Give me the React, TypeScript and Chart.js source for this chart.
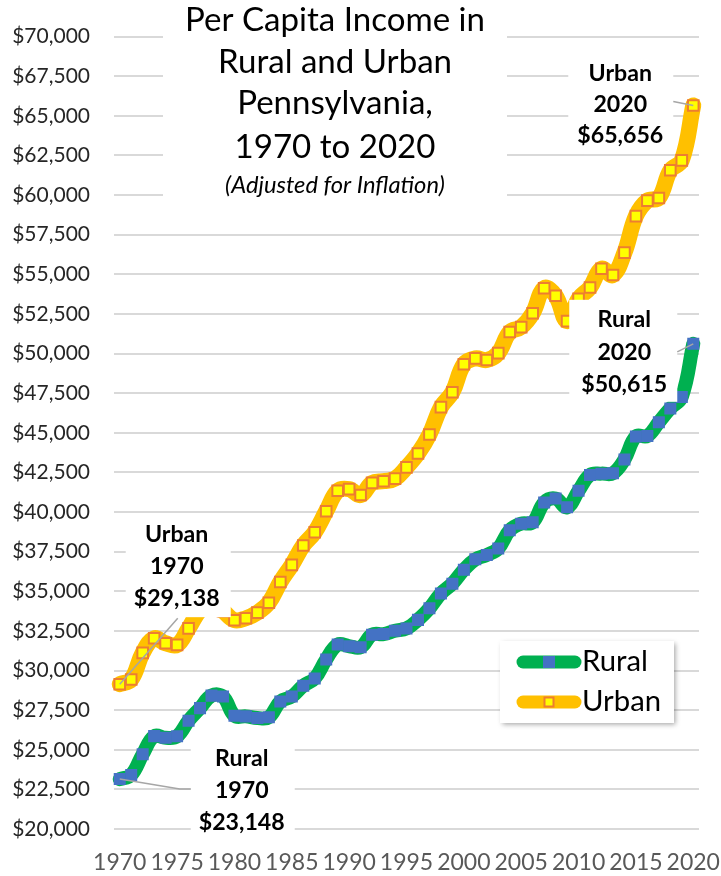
import React, { useEffect, useRef } from "react";
import { Chart, registerables } from "chart.js";

Chart.register(...registerables);

const years = [
  "1970", "1971", "1972", "1973", "1974", "1975", "1976", "1977", "1978", "1979",
  "1980", "1981", "1982", "1983", "1984", "1985", "1986", "1987", "1988", "1989",
  "1990", "1991", "1992", "1993", "1994", "1995", "1996", "1997", "1998", "1999",
  "2000", "2001", "2002", "2003", "2004", "2005", "2006", "2007", "2008", "2009",
  "2010", "2011", "2012", "2013", "2014", "2015", "2016", "2017", "2018", "2019",
  "2020",
];

const xTickLabels = ["1970", "1975", "1980", "1985", "1990", "1995", "2000", "2005", "2010", "2015", "2020"];

const ruralIncome = [
  23148, 23408, 24717, 25860, 25756, 25850, 26837, 27627, 28416, 28354,
  27149, 27107, 27004, 27050, 28042, 28354, 29040, 29497, 30702, 31637,
  31534, 31471, 32261, 32300, 32510, 32656, 33196, 33923, 34858, 35482,
  36355, 37020, 37290, 37706, 38849, 39264, 39350, 40600, 40850, 40300,
  41341, 42340, 42423, 42450, 43317, 44771, 44800, 45665, 46538, 47265,
  50615,
];

const urbanIncome = [
  29138, 29433, 31116, 32032, 31721, 31615, 32656, 33800, 34200, 33750,
  33174, 33300, 33653, 34277, 35586, 36666, 37893, 38724, 40054, 41342,
  41446, 41072, 41841, 41945, 42111, 42818, 43691, 44896, 46621, 47556,
  49322, 49696, 49592, 50029, 51359, 51671, 52544, 54123, 53645, 52045,
  53458, 54165, 55349, 54954, 56368, 58674, 59651, 59817, 61563, 62187,
  65656,
];

const yMin = 20000;
const yMax = 70000;
const yStep = 2500;

const seriesNames = ["Rural", "Urban"];
const titleLines = ["Per Capita Income in", "Rural and Urban", "Pennsylvania,", "1970 to 2020"];
const subtitleText = "(Adjusted for Inflation)";

const FONT = "Lato, 'Open Sans', sans-serif";
const RURAL_LINE = "#00B050";
const RURAL_MARK = "#4472C4";
const URBAN_LINE = "#FFC000";
const URBAN_MARK = "#FFFF00";
const URBAN_MARK_BORDER = "#ED7D31";

const money = (v: number) => "$" + Number(v).toLocaleString("en-US");

function fitSize(ctx: CanvasRenderingContext2D, text: string, width: number, style: string) {
  const base = 40;
  ctx.font = `${style} ${base}px ${FONT}`;
  const w = ctx.measureText(text).width;
  return (base * width) / w;
}

const overlayPlugin = {
  id: "overlay",
  beforeDatasetsDraw(chart: any) {
    const ctx: CanvasRenderingContext2D = chart.ctx;
    ctx.save();
    ctx.fillStyle = "#ffffff";
    ctx.fillRect(163, 0, 344, 200);
    ctx.fillStyle = "#000000";
    ctx.textAlign = "center";
    ctx.textBaseline = "alphabetic";
    const tSize = fitSize(ctx, titleLines[0], 300, "400");
    ctx.font = `400 ${tSize}px ${FONT}`;
    const baselines = [31, 73, 114, 158];
    titleLines.forEach((t, i) => ctx.fillText(t, 335, baselines[i]));
    const sSize = fitSize(ctx, subtitleText, 220, "italic 400");
    ctx.font = `italic 400 ${sSize}px ${FONT}`;
    ctx.fillText(subtitleText, 335, 193);
    ctx.restore();
  },
  afterDatasetsDraw(chart: any) {
    const ctx: CanvasRenderingContext2D = chart.ctx;
    const xs = chart.scales.x;
    const ys = chart.scales.y;
    const last = years.length - 1;
    const pt = (i: number, arr: number[]) => ({ x: xs.getPixelForValue(i), y: ys.getPixelForValue(arr[i]) });

    ctx.save();
    const labelSize = fitSize(ctx, money(urbanIncome[0]), 86, "700");
    const specs = [
      { p: pt(0, urbanIncome), name: seriesNames[1], year: years[0], val: urbanIncome[0],
        box: [6, -169, 105, 102], cx: 57, base: [-142, -110, -78], leader: [[58, -66], [0, 0]] },
      { p: pt(0, ruralIncome), name: seriesNames[0], year: years[0], val: ruralIncome[0],
        box: [71, -39, 104, 98], cx: 122, base: [-13, 19, 51], leader: [[71, 10], [60, 10], [0, 0]] },
      { p: pt(last, urbanIncome), name: seriesNames[1], year: years[last], val: urbanIncome[last],
        box: [-125, -53, 105, 98], cx: -73, base: [-24, 7, 38], leader: [[-20, -4], [0, 0]] },
      { p: pt(last, ruralIncome), name: seriesNames[0], year: years[last], val: ruralIncome[last],
        box: [-124, -44, 108, 102], cx: -69, base: [-17, 16, 48], leader: [[-16, 8], [0, 0]] },
    ];
    for (const s of specs) {
      const { p } = s;
      ctx.fillStyle = "#ffffff";
      ctx.fillRect(p.x + s.box[0], p.y + s.box[1], s.box[2], s.box[3]);
      ctx.strokeStyle = "#A6A6A6";
      ctx.lineWidth = 1.5;
      ctx.beginPath();
      s.leader.forEach((l, i) => {
        if (i === 0) ctx.moveTo(p.x + l[0], p.y + l[1]);
        else ctx.lineTo(p.x + l[0], p.y + l[1]);
      });
      ctx.stroke();
      ctx.fillStyle = "#000000";
      ctx.textAlign = "center";
      ctx.textBaseline = "alphabetic";
      ctx.font = `700 ${labelSize}px ${FONT}`;
      const lines = [s.name, s.year, money(s.val)];
      lines.forEach((t, i) => ctx.fillText(t, p.x + s.cx, p.y + s.base[i]));
    }

    // Legend
    const lx = 500, ly = 641, lw = 174, lh = 82;
    ctx.save();
    ctx.shadowColor = "rgba(0,0,0,0.35)";
    ctx.shadowBlur = 5;
    ctx.shadowOffsetX = 1.5;
    ctx.shadowOffsetY = 1.5;
    ctx.fillStyle = "#ffffff";
    ctx.fillRect(lx, ly, lw, lh);
    ctx.restore();

    const legSize = fitSize(ctx, seriesNames[0], 66, "400");
    const rows = [
      { y: 662, line: RURAL_LINE, mark: RURAL_MARK, border: null as string | null, side: 12, name: seriesNames[0], lw: 13 },
      { y: 702, line: URBAN_LINE, mark: URBAN_MARK, border: URBAN_MARK_BORDER, side: 9, name: seriesNames[1], lw: 13 },
    ];
    for (const r of rows) {
      ctx.strokeStyle = r.line;
      ctx.lineWidth = r.lw;
      ctx.lineCap = "round";
      ctx.beginPath();
      ctx.moveTo(523, r.y);
      ctx.lineTo(575, r.y);
      ctx.stroke();
      ctx.fillStyle = r.mark;
      ctx.fillRect(549 - r.side / 2, r.y - r.side / 2, r.side, r.side);
      if (r.border) {
        ctx.strokeStyle = r.border;
        ctx.lineWidth = 2;
        ctx.lineCap = "butt";
        ctx.strokeRect(549 - r.side / 2, r.y - r.side / 2, r.side, r.side);
      }
      ctx.fillStyle = "#000000";
      ctx.textAlign = "left";
      ctx.textBaseline = "alphabetic";
      ctx.font = `400 ${legSize}px ${FONT}`;
      ctx.fillText(r.name, 582, r.y + 9);
    }
    ctx.restore();
  },
};

export default function App() {
  const canvasRef = useRef<HTMLCanvasElement | null>(null);

  useEffect(() => {
    const canvas = canvasRef.current;
    if (!canvas) return;
    const chart = new Chart(canvas, {
      type: "line",
      data: {
        labels: years,
        datasets: [
          {
            label: seriesNames[0],
            data: ruralIncome,
            borderColor: RURAL_LINE,
            borderWidth: 14,
            tension: 0.4,
            fill: false,
            borderCapStyle: "round",
            borderJoinStyle: "round",
            pointStyle: "rect",
            pointRadius: 8.5,
            pointBackgroundColor: RURAL_MARK,
            pointBorderColor: RURAL_MARK,
            pointBorderWidth: 0,
          },
          {
            label: seriesNames[1],
            data: urbanIncome,
            borderColor: URBAN_LINE,
            borderWidth: 16,
            tension: 0.4,
            fill: false,
            borderCapStyle: "round",
            borderJoinStyle: "round",
            pointStyle: "rect",
            pointRadius: 7.5,
            pointBackgroundColor: URBAN_MARK,
            pointBorderColor: URBAN_MARK_BORDER,
            pointBorderWidth: 2,
          },
        ],
      },
      options: {
        animation: false,
        responsive: false,
        maintainAspectRatio: false,
        events: [],
        layout: { padding: { top: 27, right: 22, left: 0, bottom: 0 } },
        plugins: {
          legend: { display: false },
          title: { display: false },
          tooltip: { enabled: false },
        },
        scales: {
          x: {
            type: "category",
            offset: true,
            grid: { display: false, drawTicks: false },
            border: { display: false },
            ticks: {
              autoSkip: false,
              maxRotation: 0,
              minRotation: 0,
              padding: 0,
              color: "#595959",
              font: { family: FONT, size: 23, lineHeight: 2.96 },
              callback: (_v: any, i: number) => (xTickLabels.includes(years[i]) ? years[i] : ""),
            },
            afterFit: (s: any) => {
              s.height = 47;
            },
          },
          y: {
            min: yMin,
            max: yMax,
            grid: { color: "#D9D9D9", lineWidth: 2, drawTicks: false },
            border: { display: false },
            ticks: {
              stepSize: yStep,
              padding: 24,
              color: "#262626",
              font: { family: FONT, size: 21 },
              callback: (v: any) => money(Number(v)),
            },
            afterFit: (s: any) => {
              s.width = 114;
            },
          },
        },
      },
      plugins: [overlayPlugin],
    } as any);
    return () => chart.destroy();
  }, []);

  return (
    <div style={{ position: "fixed", left: 0, top: 0, width: 721, height: 876, background: "#fff" }}>
      <canvas ref={canvasRef} width={721} height={876} style={{ width: 721, height: 876, display: "block" }} />
    </div>
  );
}
